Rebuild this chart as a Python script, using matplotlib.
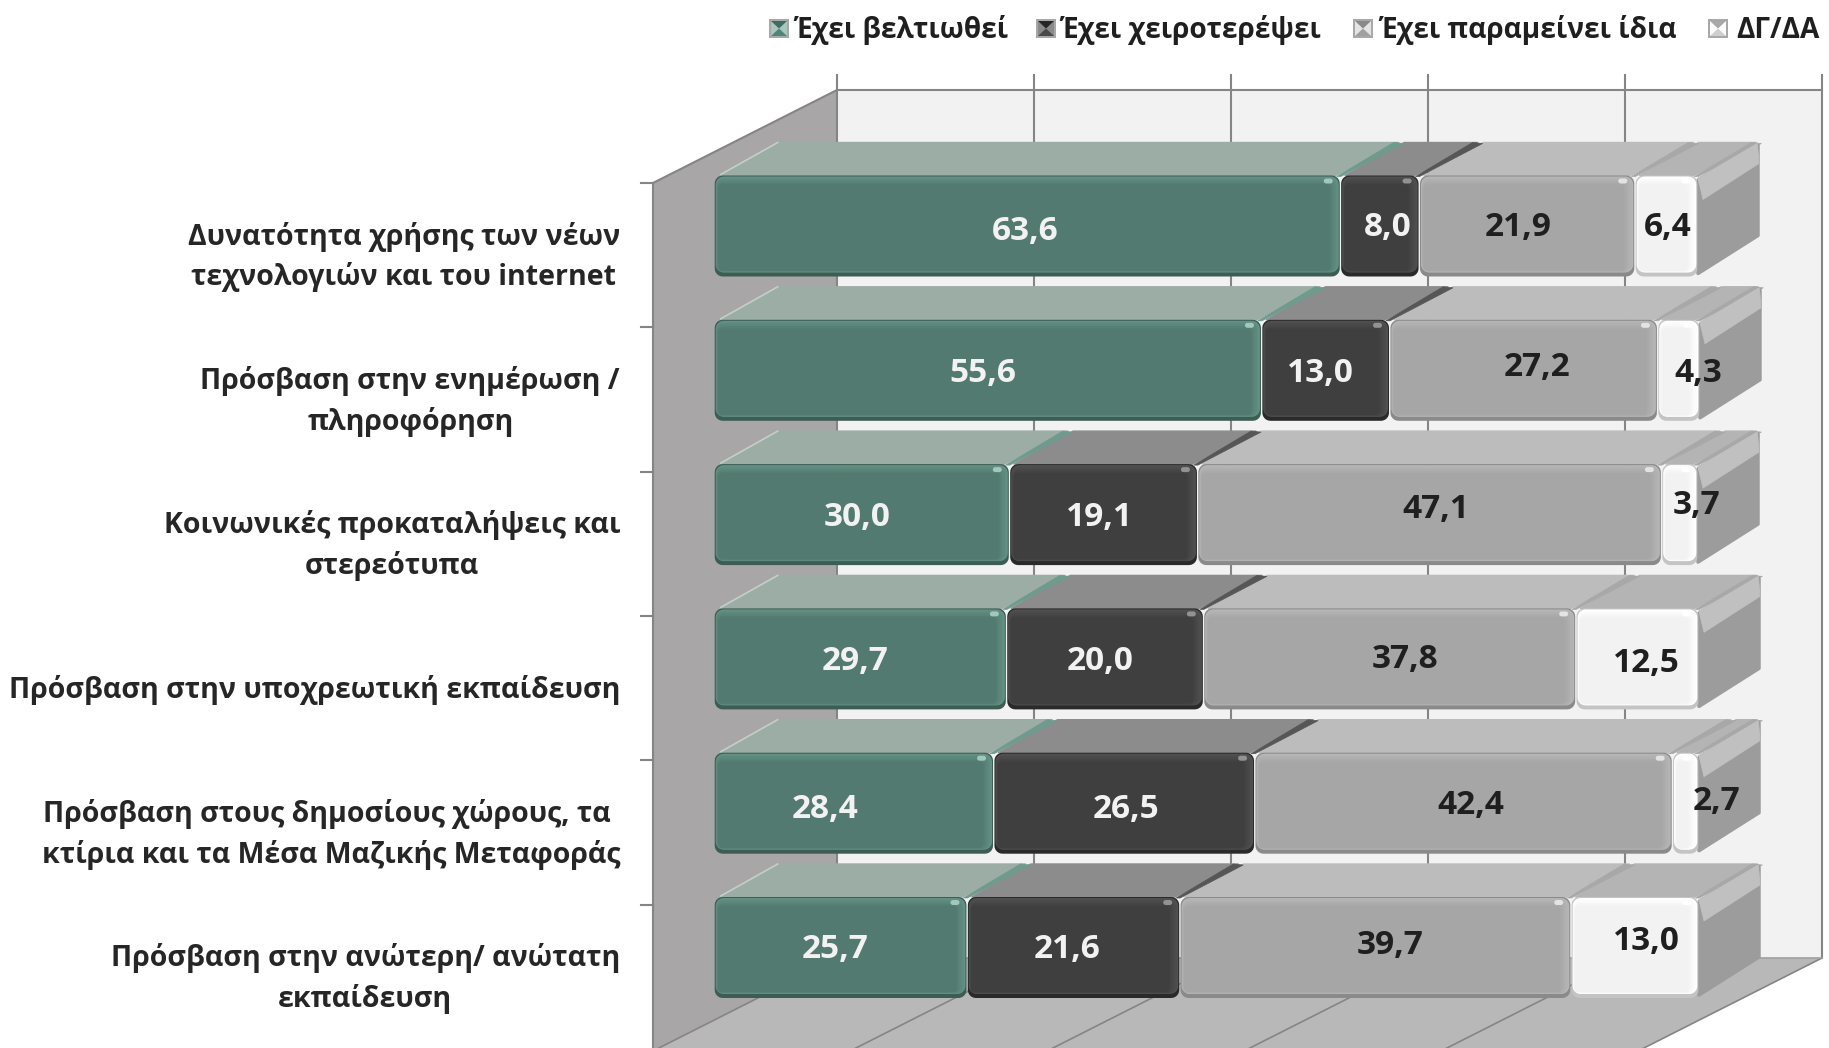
import numpy as np
import matplotlib
matplotlib.use('Agg')
import matplotlib.pyplot as plt
from matplotlib.colors import to_rgb
from matplotlib.patches import Polygon

categories = [
    'Δυνατότητα χρήσης των νέων\nτεχνολογιών και του internet',
    'Πρόσβαση στην ενημέρωση /\nπληροφόρηση',
    'Κοινωνικές προκαταλήψεις και\nστερεότυπα',
    'Πρόσβαση στην υποχρεωτική εκπαίδευση',
    'Πρόσβαση στους δημοσίους χώρους, τα \nκτίρια και τα Μέσα Μαζικής Μεταφοράς',
    'Πρόσβαση στην ανώτερη/ ανώτατη\nεκπαίδευση',
]
series_names = ['Έχει βελτιωθεί', 'Έχει χειροτερέψει', 'Έχει παραμείνει ίδια', 'ΔΓ/ΔΑ']
improved = [63.6, 55.6, 30.0, 29.7, 28.4, 25.7]
worse = [8.0, 13.0, 19.1, 20.0, 26.5, 21.6]
same = [21.9, 27.2, 47.1, 37.8, 42.4, 39.7]
dk = [6.4, 4.3, 3.7, 12.5, 2.7, 13.0]
series = [improved, worse, same, dk]
grid_values = [0, 20, 40, 60, 80, 100]

# label positions as placed by hand in the original, in figure pixels
label_px = [
    [(1025, 229), (1388, 226), (1518, 226), (1668, 225)],
    [(983, 372), (1320, 372), (1537, 366), (1698, 372)],
    [(857, 516), (1099, 516), (1436, 507), (1697, 504)],
    [(855, 660), (1100, 660), (1405, 658), (1646, 662)],
    [(825, 808), (1126, 808), (1471, 803), (1716, 799)],
    [(835, 948), (1067, 948), (1390, 943), (1646, 940)],
]

W, H = 1829, 1048
PX_X = 9.85    # px per percent
PX_Y = 144.3   # px per category
X0, Y0 = 714, 226   # px position of 0 % / first category centre

plt.rcParams['font.family'] = ['Open Sans', 'DejaVu Sans']

fig = plt.figure(figsize=(W / 100, H / 100), dpi=100)
ax = fig.add_axes([0, 0, 1, 1])
ax.set_xlim(-X0 / PX_X, (W - X0) / PX_X)
ax.set_ylim((H - Y0) / PX_Y, -Y0 / PX_Y)
ax.axis('off')


def px(x, y):
    return (x - X0) / PX_X, (y - Y0) / PX_Y


def poly(points, color, z=2, lw=0.0, ec=None):
    ax.add_patch(Polygon([px(*p) for p in points], closed=True, fc=color, ec=ec or color,
                         lw=lw, zorder=z, joinstyle='round'))


def rrect(x0, x1, y0, y1, r, color, z=3):
    # rounded rectangle in pixel terms
    pts = []
    for cx, cy, a0 in [(x1 - r, y0 + r, -90), (x1 - r, y1 - r, 0), (x0 + r, y1 - r, 90), (x0 + r, y0 + r, 180)]:
        for a in np.radians(np.linspace(a0, a0 + 90, 7)):
            pts.append((cx + r * np.cos(a), cy + r * np.sin(a)))
    poly(pts, color, z)


def mix(a, b, t):
    return tuple((1 - t) * np.array(to_rgb(a)) + t * np.array(to_rgb(b)))


# walls and floor
wx0 = X0 + 123
wx1 = wx0 + 100 * PX_X
wy0, wy1 = 90, 958
fx, fy = -184, 93   # depth of the chart box
line_c = '#858585'
poly([(wx0, wy0), (wx1, wy0), (wx1, wy1), (wx0, wy1)], '#f2f2f2', 1)
poly([(wx0, wy0), (wx0 + fx, wy0 + fy), (wx0 + fx, wy1 + fy), (wx0, wy1)], '#a8a6a6', 1)
poly([(wx0, wy1), (wx1, wy1), (wx1 + fx, wy1 + fy), (wx0 + fx, wy1 + fy)], '#b8b8b8', 1)

for g in grid_values:
    gx = wx0 + g * PX_X
    ax.plot(*zip(px(gx, wy0 - 15), px(gx, wy1)), color=line_c, lw=1.5, zorder=1.5)
    ax.plot(*zip(px(gx, wy1), px(gx + fx, wy1 + fy)), color=line_c, lw=1.2, zorder=1.5)
ax.plot(*zip(px(wx0, wy0), px(wx1, wy0)), color=line_c, lw=1.5, zorder=1.5)
ax.plot(*zip(px(wx0, wy1), px(wx1, wy1)), color='#a0a0a0', lw=1.2, zorder=1.5)
ax.plot(*zip(px(wx0, wy0), px(wx0 + fx, wy0 + fy)), color=line_c, lw=1.5, zorder=1.5)
ax.plot(*zip(px(wx0 + fx, wy0 + fy), px(wx0 + fx, H)), color=line_c, lw=1.5, zorder=1.5)
for i in range(len(categories)):
    ty = wy0 + fy + i * PX_Y
    ax.plot(*zip(px(wx0 + fx - 12, ty), px(wx0 + fx, ty)), color=line_c, lw=1.5, zorder=1.5)

# colours: face, top of the block, chamfer, bevel band, bottom band
styles = [
    dict(face='#527a70', top='#9cada6', cham='#6f9a8e', band='#639184', low='#3d5c53', spot='#b9d8d0', txt='#f2f2f2'),
    dict(face='#3f3f3f', top='#8c8c8c', cham='#565656', band='#505050', low='#2a2a2a', spot='#a8a8a8', txt='#f2f2f2'),
    dict(face='#a6a6a6', top='#bcbcbc', cham='#a8a8a8', band='#b6b6b6', low='#8a8a8a', spot='#f2f2f2', txt='#1f1f1f'),
    dict(face='#f2f2f2', top='#b4b4b4', cham='#a8a8a8', band='#ffffff', low='#c4c4c4', spot='#ffffff', txt='#1f1f1f'),
]

HALF = 50.5
DX, DY = 63, -33
STEPS = 7
for r in range(len(categories)):
    yc = Y0 + r * PX_Y
    top, bot = yc - HALF, yc + HALF
    left = 0.0
    for j, (s, st) in enumerate(zip(series, styles)):
        v = s[r]
        x0 = X0 + left * PX_X + 0.7
        x1 = X0 + (left + v) * PX_X - 0.7
        # top of the block
        poly([(x0 + 4, top), (x1 - 4, top), (x1 + DX - 4, top + DY), (x0 + DX, top + DY)], st['top'], 2.2, 1.0)
        poly([(x1 - 3, top + 1), (x1 + 1, top + 1), (x1 + DX + 1, top + DY + 1), (x1 + DX - 9, top + DY)], st['cham'], 2.3, 0.5)
        if j == 0:
            ax.plot(*zip(px(x0 + 6, top - 1), px(x0 + DX, top + DY)), color='#c4cfca', lw=1.2, zorder=2.4)
        # front face with its bevel
        rrect(x0, x1, top, bot, 8, st['low'], 3)
        for k in range(STEPS):
            t = k / (STEPS - 1)
            rrect(x0 + 1 + 2.5 * t, x1 - 1 - 9 * t, top + 1 + 8 * t, bot - 4 - 2 * t, 8 - 4 * t,
                  mix(st['band'], st['face'], t), 3.1 + k * 0.01)
        rrect(x1 - 16, x1 - 7, top + 3, top + 8, 2.5, mix(st['spot'], st['band'], 0.25), 3.3)
        left += v
    # end of the bar on the right
    xe = X0 + left * PX_X - 1
    poly([(xe + 1, top + 5), (xe + DX - 2, top + DY + 3), (xe + DX - 2, bot + DY - 8), (xe + 1, bot - 3)], '#9c9c9c', 2.6, 2.5)
    for k in range(4):
        c = mix('#c0c0c0', '#9c9c9c', k / 3)
        off = 8 + 5 * (3 - k)
        poly([(xe + 1, top + 3), (xe + DX - 3, top + DY + 1), (xe + DX - 1, top + DY + off - 2), (xe + 6, top + off + 1)],
             c, 2.7 - 0.01 * k, 0.5)
    for j, (lx, ly) in enumerate(label_px[r]):
        ax.text(*px(lx, ly + 2), f'{series[j][r]:.1f}'.replace('.', ','), color=styles[j]['txt'],
                fontsize=24, fontweight='bold', ha='center', va='center', zorder=5)
    ax.text(*px(620, yc + 31), categories[r], color='#262626', fontsize=20.5, fontweight='bold',
            ha='right', va='center', multialignment='center', linespacing=1.47, zorder=5)

# legend
legend_sw = [769, 1036, 1353, 1708]
legend_tx = [794, 1060, 1379, 1736]
legend_cols = [('#4f8578', '#a9c6be', '#3f6b60'), ('#4a4a4a', '#8a8a8a', '#262626'),
               ('#a0a0a0', '#e4e4e4', '#8a8a8a'), ('#cfcfcf', '#fcfcfc', '#a8a8a8')]
for sx, tx, name, (c0, c1, c2) in zip(legend_sw, legend_tx, series_names, legend_cols):
    y0, y1 = 19, 38
    x1 = sx + 20
    poly([(sx, y0), (x1, y0), (x1, y1), (sx, y1)], '#a8a8a8', 4)
    poly([(sx + 2, y0 + 2), (x1 - 2, y0 + 2), (x1 - 2, y1 - 2), (sx + 2, y1 - 2)], c1, 4.05)
    poly([(sx + 2, y0 + 2), (x1 - 2, y0 + 2), ((sx + x1) / 2, (y0 + y1) / 2)], c2, 4.1)
    poly([(sx + 2, y1 - 2), (x1 - 2, y1 - 2), ((sx + x1) / 2, (y0 + y1) / 2)], c0, 4.1)
    ax.text(*px(tx, 30), name, color='#1f1f1f', fontsize=20.2, fontweight='bold', ha='left', va='center', zorder=5)

fig.savefig('out.png', dpi=100)
